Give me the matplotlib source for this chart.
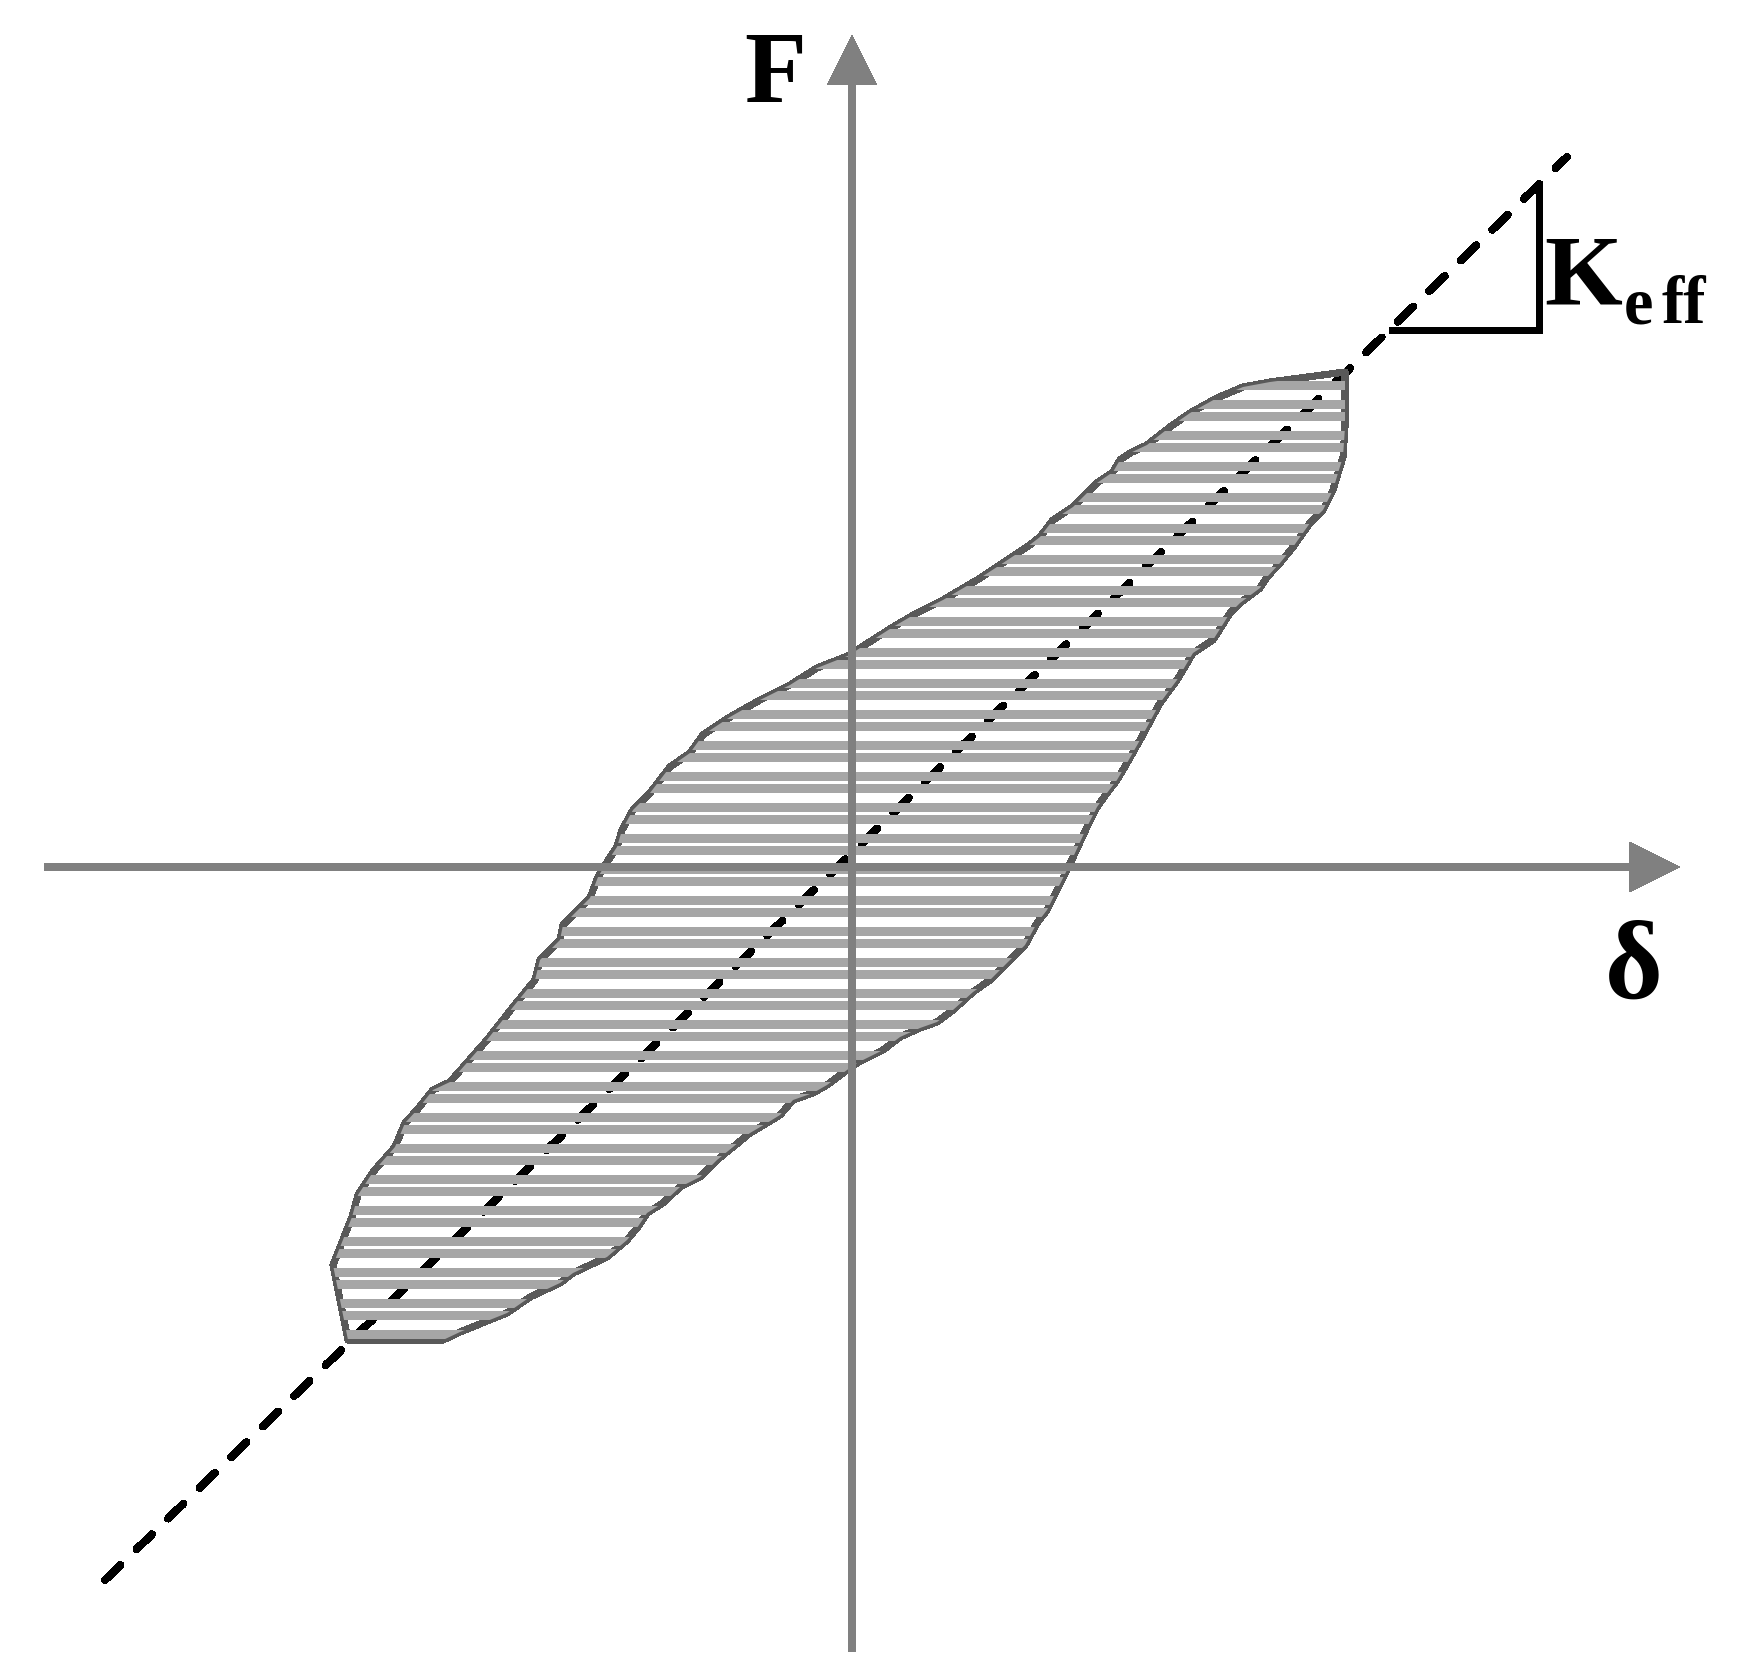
import numpy as np
import matplotlib.pyplot as plt
from matplotlib.patches import Polygon

# ramo inferior/direito do laco (do pico +F ate o pico -F)
ramo_desc_d = [4.93, 4.93, 4.91, 4.86, 4.81, 4.71, 4.58, 4.41, 4.28, 4.15, 4.08,
               3.88, 3.78, 3.61, 3.41, 3.25, 3.08, 2.88, 2.75, 2.65, 2.55, 2.45,
               2.35, 2.23, 2.15, 2.05, 1.95, 1.85, 1.73, 1.61, 1.48, 1.38, 1.21,
               1.01, 0.85, 0.68, 0.48, 0.31, 0.21, 0.05, -0.05, -0.25, -0.39,
               -0.59, -0.72, -0.85, -1.02, -1.19, -1.35, -1.52, -1.72, -1.89,
               -2.05, -2.15, -2.25, -2.45, -2.79, -2.92, -3.22, -3.45, -3.92,
               -4.09, -5.04]
ramo_desc_f = [4.95, 4.40, 4.10, 3.94, 3.77, 3.57, 3.44, 3.20, 3.04, 2.90, 2.79,
               2.64, 2.54, 2.27, 2.14, 1.87, 1.64, 1.27, 1.04, 0.87, 0.74, 0.60,
               0.40, 0.14, -0.03, -0.23, -0.43, -0.56, -0.78, -0.90, -1.03, -1.13,
               -1.25, -1.43, -1.55, -1.61, -1.70, -1.83, -1.88, -1.96, -2.03,
               -2.18, -2.26, -2.33, -2.48, -2.56, -2.66, -2.80, -2.93, -3.10,
               -3.20, -3.36, -3.46, -3.61, -3.73, -3.90, -4.06, -4.16, -4.30,
               -4.46, -4.65, -4.73, -4.73]

# ramo superior/esquerdo do laco (do pico -F de volta ao pico +F)
ramo_sub_d = [-5.12, -5.19, -5.00, -4.94, -4.79, -4.57, -4.47, -4.35, -4.19,
              -4.02, -3.65, -3.39, -3.17, -3.12, -2.92, -2.89, -2.62, -2.54,
              -2.45, -2.35, -2.30, -2.19, -2.02, -1.82, -1.62, -1.49, -1.22,
              -0.92, -0.62, -0.35, -0.02, 0.05, 0.41, 0.65, 0.91, 1.25, 1.45,
              1.75, 1.88, 2.01, 2.21, 2.31, 2.45, 2.61, 2.68, 2.78, 2.95, 3.18,
              3.38, 3.65, 3.91, 4.18]
ramo_sub_f = [-4.33, -3.98, -3.50, -3.28, -3.05, -2.80, -2.56, -2.43, -2.23,
              -2.15, -1.73, -1.40, -1.13, -0.93, -0.73, -0.58, -0.31, -0.10,
              0.05, 0.20, 0.37, 0.57, 0.74, 1.00, 1.14, 1.32, 1.50, 1.67, 1.82,
              1.99, 2.12, 2.17, 2.40, 2.54, 2.67, 2.87, 3.00, 3.20, 3.30, 3.47,
              3.60, 3.70, 3.84, 3.95, 4.07, 4.14, 4.22, 4.40, 4.54, 4.69, 4.80,
              4.85]

# reta da rigidez efetiva (secante)
keff_d = [-7.47, 7.15]
keff_f = [-7.13, 7.10]
# trecho horizontal do triangulo de inclinacao
tri_d = [5.37, 6.87]

plt.rcParams['lines.scale_dashes'] = False

fig = plt.figure(figsize=(17.39, 16.80), dpi=100)
ax = fig.add_axes([0, 0, 1, 1])
ax.set_xlim(-8.52, 8.87)
ax.set_ylim(-8.13, 8.67)
ax.axis('off')

cinza_eixo = '#808080'
cinza_contorno = '#595959'
cinza_hachura = '#a6a6a6'

# reta tracejada Keff
ax.plot(keff_d, keff_f, color='black', lw=5.0, dashes=(15.5, 16.0),
        dash_capstyle='round', antialiased=False, zorder=1)

# contorno do laco
laco_d = ramo_desc_d + ramo_sub_d
laco_f = ramo_desc_f + ramo_sub_f
ax.fill(laco_d, laco_f, facecolor='none', edgecolor=cinza_contorno, lw=4.4,
        joinstyle='round', antialiased=False, zorder=2)

# hachura horizontal recortada pelo laco
forma = Polygon(np.column_stack([laco_d, laco_f]), closed=True,
                transform=ax.transData, fill=False, lw=0)
ax.add_patch(forma)
topo = np.arange(4.82, -4.73, -0.31)
niveis = np.concatenate([topo, topo - 0.19])
hach = ax.hlines(niveis, -6, 6, colors=cinza_hachura, lw=5.2,
                 antialiased=False, zorder=3)
hach.set_capstyle('butt')
hach.set_clip_path(forma)

# eixos com setas
ax.arrow(-8.08, 0, 16.36, 0, width=0.067, head_width=0.5, head_length=0.51,
         length_includes_head=True, fc=cinza_eixo, ec='none',
         antialiased=False, zorder=4)
ax.arrow(0, -7.85, 0, 16.17, width=0.067, head_width=0.5, head_length=0.5,
         length_includes_head=True, fc=cinza_eixo, ec='none',
         antialiased=False, zorder=4)

# triangulo de inclinacao
tri_f = np.interp(tri_d, keff_d, keff_f)
ax.plot([tri_d[0], tri_d[1], tri_d[1]], [tri_f[0], tri_f[0], tri_f[1]],
        color='black', lw=5.0, solid_joinstyle='miter',
        solid_capstyle='butt', antialiased=False, zorder=4)

# rotulos
fonte = 'Liberation Serif'
ax.text(-0.77, 7.65, 'F', fontsize=73, fontweight='bold', family=fonte,
        ha='center', va='baseline')
ax.text(7.82, -1.31, 'δ', fontsize=80, fontweight='bold', family=fonte,
        ha='center', va='baseline')
ax.text(6.92, 5.64, 'K', fontsize=72, fontweight='bold', family=fonte,
        ha='left', va='baseline')
ax.text(7.72, 5.44, 'e', fontsize=48, fontweight='bold', family=fonte,
        ha='left', va='baseline')
ax.text(8.09, 5.44, 'ff', fontsize=48, fontweight='bold', family=fonte,
        ha='left', va='baseline')

fig.savefig('out.png', dpi=100)
